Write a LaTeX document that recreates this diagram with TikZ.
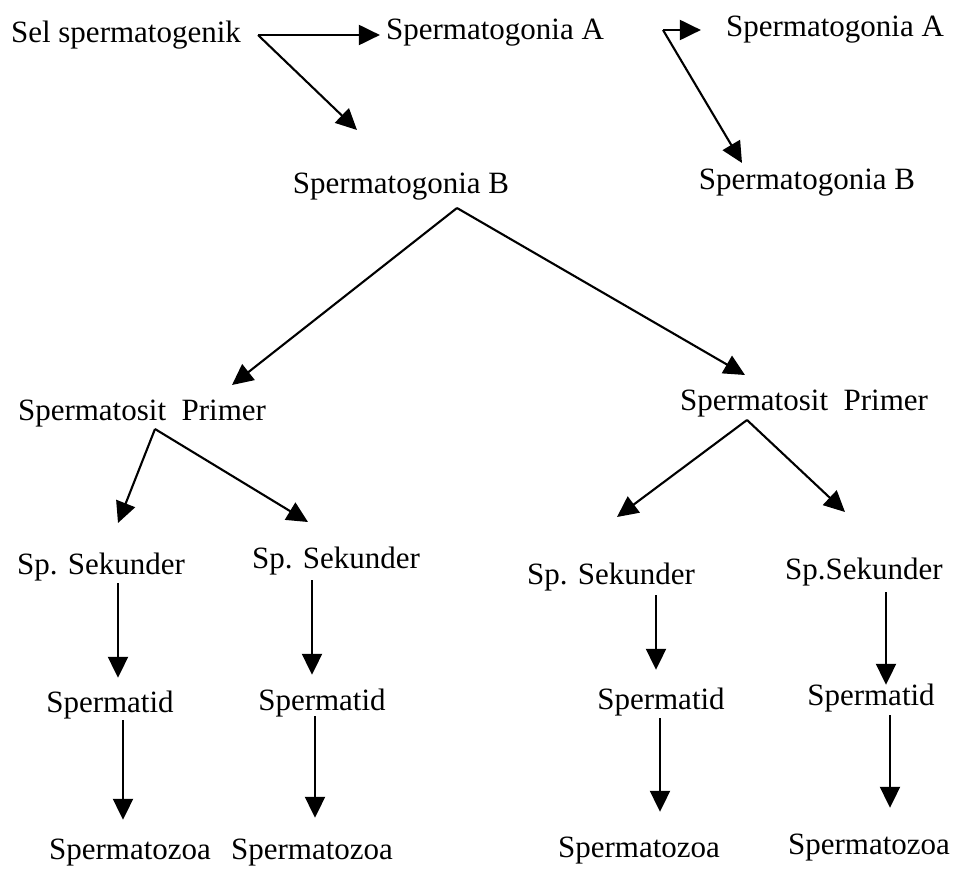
\documentclass[tikz,border=0pt]{standalone}
\usepackage{fontspec}
\setmainfont{Liberation Serif}
\usetikzlibrary{arrows.meta,calc}

\tikzset{
    lbl/.style={inner sep=0pt, text height=20pt, text depth=6pt, font=\fontsize{31}{36}\selectfont},
    arr/.style={line width=2.1pt, -{Triangle[length=21pt,width=20pt]}}
}

\begin{document}
\begin{tikzpicture}[x=1pt,y=-1pt]
    \useasboundingbox (0,0) rectangle (956,875);
    % Labels
    \node[lbl] (sel) at (126,36) {Sel spermatogenik};
    \node[lbl] (spA1) at (495,33) {Spermatogonia A};
    \node[lbl] (spA2) at (835,30) {Spermatogonia A};
    \node[lbl] (spB1) at (401,186) {Spermatogonia B};
    \node[lbl] (spB2) at (807,182) {Spermatogonia B};
    \node[lbl] (primL) at (142,413) {Spermatosit\ \ Primer};
    \node[lbl] (primR) at (804,403) {Spermatosit\ \ Primer};
    \node[lbl] (sek1) at (101,567) {Sp. Sekunder};
    \node[lbl] (sek2) at (336,561) {Sp. Sekunder};
    \node[lbl] (sek3) at (611,577) {Sp. Sekunder};
    \node[lbl] (sek4) at (864,572) {Sp.Sekunder};
    \node[lbl] (tid1) at (110,705) {Spermatid};
    \node[lbl] (tid2) at (322,703) {Spermatid};
    \node[lbl] (tid3) at (661,702) {Spermatid};
    \node[lbl] (tid4) at (871,698) {Spermatid};
    \node[lbl] (zoa1) at (130,852) {Spermatozoa};
    \node[lbl] (zoa2) at (312,852) {Spermatozoa};
    \node[lbl] (zoa3) at (639,850) {Spermatozoa};
    \node[lbl] (zoa4) at (869,847) {Spermatozoa};
    % Fork points and free arrow ends
    \coordinate (selfork) at (258,35);
    \coordinate (spAfork) at (663,30);
    \coordinate (spBfork) at (457,208);
    \coordinate (primLfork) at (155,429);
    \coordinate (primRfork) at (747,420);
    \coordinate (tipB1) at (357,130);
    \coordinate (tipB2) at (742,163);
    \coordinate (tipPL) at (232,385);
    \coordinate (tipPR) at (745,375);
    \coordinate (tipS1) at (118,523);
    \coordinate (tipS2) at (308,522);
    \coordinate (tipS3) at (617,517);
    \coordinate (tipS4) at (845,512);
    % Top row
    \draw[arr, shorten >=6pt] (selfork) -- (selfork -| spA1.west);
    \draw[arr] (selfork) -- (tipB1);
    \draw[arr, shorten >=25pt] (spAfork) -- (spAfork -| spA2.west);
    \draw[arr] (spAfork) -- (tipB2);
    % Branches
    \draw[arr] (spBfork) -- (tipPL);
    \draw[arr] (spBfork) -- (tipPR);
    \draw[arr] (primLfork) -- (tipS1);
    \draw[arr] (primLfork) -- (tipS2);
    \draw[arr] (primRfork) -- (tipS3);
    \draw[arr] (primRfork) -- (tipS4);
    % Vertical arrows
    \foreach \a/\b/\dx/\s/\e in {sek1/tid1/17/3/14, sek2/tid2/-24/6/15,
        sek3/tid3/45/5/19, sek4/tid4/22/7/0, tid1/zoa1/13/2/19,
        tid2/zoa2/-7/0/21, tid3/zoa3/-1/3/25, tid4/zoa4/19/4/26} {%
        \draw[arr, shorten <=\s pt, shorten >=\e pt] ([xshift=\dx pt]\a.south) -- ([xshift=\dx pt]\a.south |- \b.north);
    }
\end{tikzpicture}
\end{document}
